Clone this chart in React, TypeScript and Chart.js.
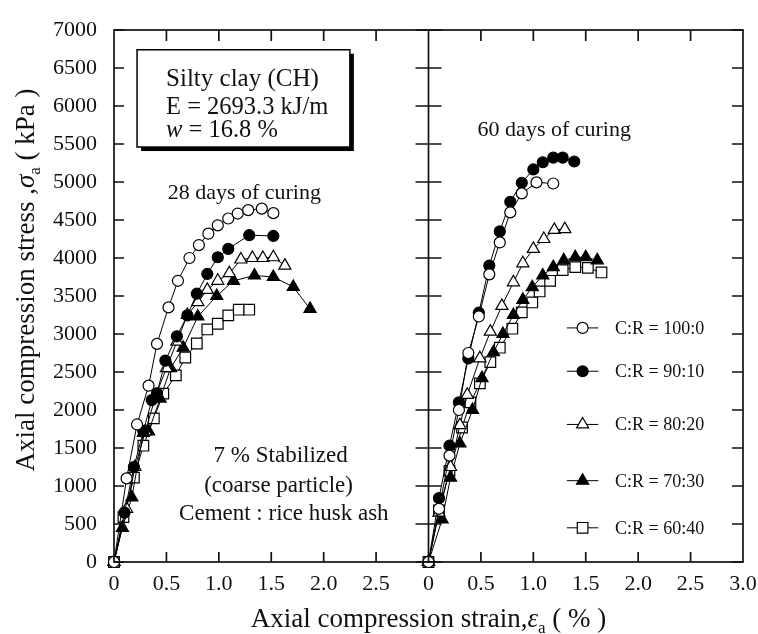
import React, { useEffect, useRef } from 'react';
import { Chart, registerables } from 'chart.js';

Chart.register(...registerables);

// ---------------- data ----------------
const SERIES_LABELS = ['C:R = 100:0', 'C:R = 90:10', 'C:R = 80:20', 'C:R = 70:30', 'C:R = 60:40'];

// 28 days of curing: [strain %, stress kPa]
const d28_100 = [[0, 0], [0.12, 1100], [0.22, 1810], [0.33, 2320], [0.41, 2870], [0.52, 3350], [0.61, 3700], [0.72, 4000], [0.81, 4170], [0.90, 4320], [0.99, 4430], [1.09, 4520], [1.18, 4585], [1.28, 4630], [1.41, 4650], [1.52, 4590]];
const d28_90 = [[0, 0], [0.10, 650], [0.19, 1250], [0.28, 1720], [0.36, 2130], [0.41, 2220], [0.49, 2650], [0.60, 2970], [0.70, 3245], [0.79, 3530], [0.89, 3790], [0.99, 4010], [1.09, 4120], [1.29, 4300], [1.52, 4290]];
const d28_80 = [[0, 0], [0.12, 700], [0.20, 1250], [0.30, 1720], [0.40, 2200], [0.50, 2550], [0.60, 2900], [0.70, 3250], [0.80, 3420], [0.89, 3580], [0.99, 3700], [1.10, 3800], [1.21, 3980], [1.32, 4000], [1.42, 4000], [1.52, 4010], [1.63, 3900]];
const d28_70 = [[0, 0], [0.08, 450], [0.17, 850], [0.28, 1700], [0.33, 1720], [0.44, 2150], [0.54, 2550], [0.66, 2820], [0.80, 3230], [0.98, 3500], [1.14, 3700], [1.34, 3770], [1.52, 3750], [1.71, 3620], [1.87, 3330]];
const d28_60 = [[0, 0], [0.09, 590], [0.19, 1110], [0.28, 1530], [0.38, 1890], [0.47, 2215], [0.59, 2455], [0.68, 2690], [0.79, 2875], [0.89, 3060], [0.99, 3135], [1.09, 3245], [1.19, 3320], [1.29, 3320]];

// 60 days of curing
const d60_100 = [[0, 0], [0.10, 700], [0.20, 1400], [0.29, 2000], [0.38, 2750], [0.48, 3230], [0.58, 3785], [0.68, 4205], [0.78, 4600], [0.89, 4850], [1.03, 4995], [1.19, 4980]];
const d60_90 = [[0, 0], [0.10, 840], [0.20, 1530], [0.29, 2100], [0.38, 2680], [0.48, 3280], [0.58, 3900], [0.68, 4350], [0.78, 4740], [0.89, 4990], [1.00, 5165], [1.09, 5260], [1.19, 5320], [1.28, 5320], [1.39, 5270]];
const d60_80 = [[0, 0], [0.10, 650], [0.21, 1250], [0.30, 1800], [0.37, 2200], [0.49, 2680], [0.59, 3030], [0.70, 3370], [0.81, 3680], [0.90, 3930], [1.00, 4120], [1.10, 4250], [1.20, 4370], [1.30, 4380]];
const d60_70 = [[0, 0], [0.13, 560], [0.21, 1110], [0.30, 1560], [0.42, 2000], [0.51, 2420], [0.62, 2760], [0.71, 3000], [0.81, 3250], [0.90, 3450], [0.99, 3615], [1.09, 3770], [1.19, 3880], [1.29, 3970], [1.40, 4010], [1.50, 4010], [1.61, 3970]];
const d60_60 = [[0, 0], [0.10, 680], [0.20, 1200], [0.32, 1770], [0.40, 2100], [0.49, 2350], [0.59, 2630], [0.68, 2820], [0.80, 3070], [0.89, 3285], [0.99, 3415], [1.06, 3560], [1.16, 3700], [1.28, 3840], [1.40, 3880], [1.52, 3870], [1.65, 3810]];

const DAYS28 = [d28_100, d28_90, d28_80, d28_70, d28_60];
const DAYS60 = [d60_100, d60_90, d60_80, d60_70, d60_60];

const X_TICKS = [0, 0.5, 1.0, 1.5, 2.0, 2.5, 3.0];
const Y_MIN = 0;
const Y_MAX = 7000;
const Y_STEP = 500;

// ---------------- styles ----------------
const FONT = '"Liberation Serif", "Times New Roman", serif';
const INK = '#111';
const MARKERS = [
  { shape: 'circle', fill: '#ffffff', r: 5.5 },
  { shape: 'circle', fill: '#000000', r: 5.5 },
  { shape: 'triangle', fill: '#ffffff', r: 7 },
  { shape: 'triangle', fill: '#000000', r: 7 },
  { shape: 'rect', fill: '#ffffff', r: 7.5 },
];
// legend rows located at these stress levels in the right panel
const LEGEND_ROWS = [3080, 2510, 1810, 1070, 450];

type Part = { t: string; italic?: boolean; sub?: boolean };

function drawRich(ctx: CanvasRenderingContext2D, parts: Part[], size: number, x: number, baseline: number, align: 'left' | 'center') {
  const fontOf = (p: Part) => `${p.italic ? 'italic ' : ''}${p.sub ? Math.round(size * 0.62) : size}px ${FONT}`;
  let w = 0;
  parts.forEach((p) => {
    ctx.font = fontOf(p);
    w += ctx.measureText(p.t).width;
  });
  let cx = align === 'center' ? x - w / 2 : x;
  ctx.textAlign = 'left';
  ctx.textBaseline = 'alphabetic';
  parts.forEach((p) => {
    ctx.font = fontOf(p);
    ctx.fillText(p.t, cx, baseline + (p.sub ? size * 0.22 : 0));
    cx += ctx.measureText(p.t).width;
  });
}

function drawMarker(ctx: CanvasRenderingContext2D, m: { shape: string; fill: string; r: number }, x: number, y: number) {
  ctx.beginPath();
  if (m.shape === 'circle') {
    ctx.arc(x, y, m.r, 0, Math.PI * 2);
  } else if (m.shape === 'triangle') {
    ctx.moveTo(x, y - m.r);
    ctx.lineTo(x + m.r * Math.sin((2 * Math.PI) / 3), y + m.r * 0.5);
    ctx.lineTo(x - m.r * Math.sin((2 * Math.PI) / 3), y + m.r * 0.5);
    ctx.closePath();
  } else {
    const h = m.r * Math.SQRT1_2;
    ctx.rect(x - h, y - h, 2 * h, 2 * h);
  }
  ctx.fillStyle = m.fill;
  ctx.fill();
  ctx.lineWidth = 1.2;
  ctx.strokeStyle = '#000';
  ctx.stroke();
}

const decor = {
  id: 'decor',
  afterDraw(chart: any) {
    const { ctx, chartArea: a, scales } = chart;
    const x1 = scales.x1;
    const x2 = scales.x2;
    const y = scales.y;
    const div = x2.getPixelForValue(0);
    ctx.save();
    // frame and divider
    ctx.strokeStyle = INK;
    ctx.lineWidth = 1.7;
    ctx.strokeRect(a.left, a.top, a.right - a.left, a.bottom - a.top);
    ctx.beginPath();
    ctx.moveTo(div, a.top);
    ctx.lineTo(div, a.bottom);
    ctx.stroke();
    // tick marks
    ctx.beginPath();
    y.ticks.forEach((t: any) => {
      const py = y.getPixelForValue(t.value);
      ctx.moveTo(a.left, py);
      ctx.lineTo(a.left + 10, py);
      ctx.moveTo(div - 13, py);
      ctx.lineTo(div + 13, py);
      ctx.moveTo(a.right - 11, py);
      ctx.lineTo(a.right, py);
    });
    [x1, x2].forEach((s: any) =>
      s.ticks.forEach((t: any) => {
        if (t.value <= 0 || t.value >= 3) return;
        const px = s.getPixelForValue(t.value);
        ctx.moveTo(px, a.bottom);
        ctx.lineTo(px, a.bottom - 10);
        ctx.moveTo(px, a.top);
        ctx.lineTo(px, a.top + 11);
      })
    );
    ctx.stroke();

    ctx.fillStyle = INK;
    // info box
    const bl = x1.getPixelForValue(0.22);
    const br = x1.getPixelForValue(2.25);
    const bt = y.getPixelForValue(6740);
    const bb = y.getPixelForValue(5460);
    ctx.fillStyle = '#000';
    ctx.fillRect(bl + 4, bt + 4, br - bl, bb - bt);
    ctx.fillStyle = '#fff';
    ctx.fillRect(bl, bt, br - bl, bb - bt);
    ctx.lineWidth = 1.5;
    ctx.strokeStyle = '#000';
    ctx.strokeRect(bl, bt, br - bl, bb - bt);
    ctx.fillStyle = INK;
    const tx = bl + 29;
    drawRich(ctx, [{ t: 'Silty clay (CH)' }], 25, tx, bt + 36, 'left');
    drawRich(ctx, [{ t: 'E = 2693.3 kJ/m' }], 24.5, tx, bt + 64, 'left');
    drawRich(ctx, [{ t: 'w', italic: true }, { t: ' = 16.8 %' }], 24.5, tx, bt + 87, 'left');

    // panel annotations
    drawRich(ctx, [{ t: '28 days of curing' }], 22, x1.getPixelForValue(1.243), y.getPixelForValue(4780), 'center');
    drawRich(ctx, [{ t: '60 days of curing' }], 22, x2.getPixelForValue(1.2), y.getPixelForValue(5600), 'center');
    drawRich(ctx, [{ t: '7 % Stabilized' }], 23, x1.getPixelForValue(1.59), y.getPixelForValue(1315), 'center');
    drawRich(ctx, [{ t: '(coarse particle)' }], 23, x1.getPixelForValue(1.57), y.getPixelForValue(915), 'center');
    drawRich(ctx, [{ t: 'Cement : rice husk ash' }], 23, x1.getPixelForValue(1.62), y.getPixelForValue(550), 'center');

    // legend
    SERIES_LABELS.forEach((lab, i) => {
      const py = y.getPixelForValue(LEGEND_ROWS[i]);
      const l0 = x2.getPixelForValue(1.32);
      const l1 = x2.getPixelForValue(1.62);
      ctx.beginPath();
      ctx.moveTo(l0, py);
      ctx.lineTo(l1, py);
      ctx.lineWidth = 1;
      ctx.strokeStyle = '#000';
      ctx.stroke();
      drawMarker(ctx, MARKERS[i], (l0 + l1) / 2, py);
      ctx.fillStyle = INK;
      drawRich(ctx, [{ t: lab }], 18, x2.getPixelForValue(1.78), py + 6, 'left');
    });

    // axis titles
    drawRich(
      ctx,
      [{ t: 'Axial compression strain,' }, { t: 'ε', italic: true }, { t: 'a', sub: true }, { t: ' ( % )' }],
      27,
      (a.left + a.right) / 2,
      627,
      'center'
    );
    ctx.save();
    ctx.translate(34, 280);
    ctx.rotate(-Math.PI / 2);
    drawRich(
      ctx,
      [{ t: 'Axial compression stress ,' }, { t: 'σ', italic: true }, { t: 'a', sub: true }, { t: ' ( kPa )' }],
      27,
      0,
      0,
      'center'
    );
    ctx.restore();
    ctx.restore();
  },
};

function xAxis(hideLast: boolean) {
  return {
    type: 'linear',
    position: 'bottom',
    stack: 'panels',
    stackWeight: 1,
    min: 0,
    max: 3,
    grid: { display: false, drawTicks: false },
    border: { display: false },
    afterBuildTicks: (s: any) => {
      s.ticks = X_TICKS.map((v) => ({ value: v }));
    },
    afterFit: (s: any) => {
      s.height = 72;
      s.paddingLeft = 0;
      s.paddingRight = 0;
    },
    ticks: {
      autoSkip: false,
      maxRotation: 0,
      padding: 9,
      color: INK,
      font: { family: FONT, size: 22 },
      callback: (v: number) => (hideLast && v >= 3 ? '' : v === 0 ? '0' : Number(v).toFixed(1)),
    },
  };
}

export default function App() {
  const ref = useRef<HTMLCanvasElement>(null);
  useEffect(() => {
    if (!ref.current) return;
    const datasets: any[] = [];
    const add = (series: number[][][], axis: string) =>
      series.forEach((pts, i) => {
        const m = MARKERS[i];
        datasets.push({
          label: SERIES_LABELS[i],
          xAxisID: axis,
          yAxisID: 'y',
          data: pts.map(([x, yv]) => ({ x, y: yv })),
          borderColor: '#000',
          borderWidth: 1,
          backgroundColor: m.fill,
          pointStyle: m.shape,
          pointRadius: m.r,
          pointBackgroundColor: m.fill,
          pointBorderColor: '#000',
          pointBorderWidth: 1.2,
          tension: 0,
          fill: false,
          clip: false,
        });
      });
    add(DAYS28, 'x1');
    add(DAYS60, 'x2');

    const chart = new Chart(ref.current, {
      type: 'line',
      data: { datasets },
      options: {
        animation: false,
        responsive: false,
        events: [],
        layout: { padding: { left: 0, top: 30, right: 15, bottom: 0 } },
        plugins: { legend: { display: false }, tooltip: { enabled: false }, title: { display: false } },
        scales: {
          x1: xAxis(true),
          x2: xAxis(false),
          y: {
            type: 'linear',
            position: 'left',
            min: Y_MIN,
            max: Y_MAX,
            grid: { display: false, drawTicks: false },
            border: { display: false },
            afterFit: (s: any) => {
              s.width = 114;
              s.paddingTop = 0;
              s.paddingBottom = 0;
            },
            ticks: {
              stepSize: Y_STEP,
              autoSkip: false,
              padding: 17,
              color: INK,
              font: { family: FONT, size: 22 },
              callback: (v: number) => String(v),
            },
          },
        } as any,
      },
      plugins: [decor],
    } as any);
    return () => chart.destroy();
  }, []);
  return (
    <div style={{ position: 'absolute', left: 0, top: 0, width: 758, height: 634, background: '#fff' }}>
      <canvas ref={ref} width={758} height={634} style={{ display: 'block' }} />
    </div>
  );
}
